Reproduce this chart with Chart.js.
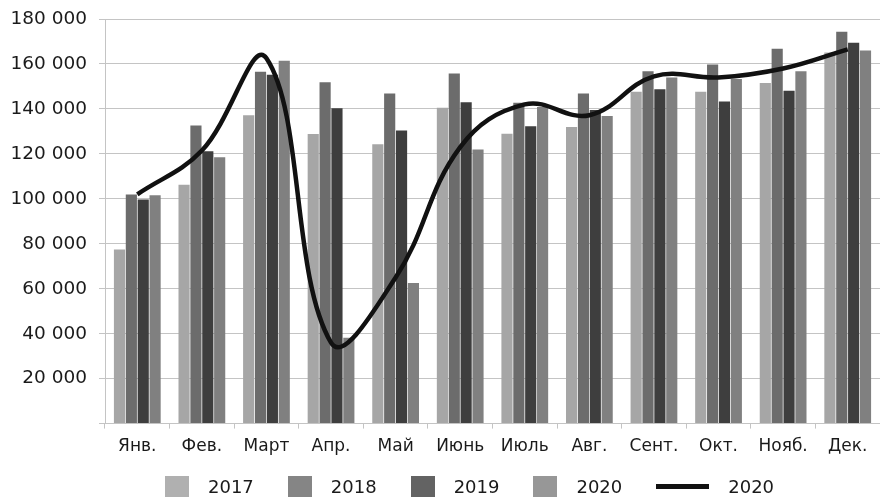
<!DOCTYPE html>
<html>
<head>
<meta charset="utf-8">
<script src="https://cdn.jsdelivr.net/npm/chart.js@4/dist/chart.umd.min.js"></script>
<style>
  html, body { margin: 0; padding: 0; background: #fff; }
  #wrap { position: relative; width: 880px; height: 499px; }
  #legend {
    position: absolute; left: 165px; top: 476px; height: 21px;
    display: flex; align-items: center;
    font-family: 'DejaVu Sans', sans-serif; font-size: 18px; color: #1a1a1a;
  }
  #legend .item { display: flex; align-items: center; margin-right: 34px; }
  #legend .box { width: 24px; height: 21px; margin-right: 19px; }
  #legend .line { width: 53px; height: 5px; margin-right: 19px; }
</style>
</head>
<body>
<div id="wrap">
  <canvas id="chart" width="880" height="499"></canvas>
  <div id="legend"></div>
</div>
<script>
// months on the x axis
const months = ['Янв.', 'Фев.', 'Март', 'Апр.', 'Май', 'Июнь', 'Июль', 'Авг.', 'Сент.', 'Окт.', 'Нояб.', 'Дек.'];

// bar series
const sales2017 = [77500, 106300, 137200, 128800, 124300, 140500, 128900, 132000, 147600, 147600, 151500, 165100];
const sales2018 = [101900, 132600, 156500, 151900, 146900, 155800, 142700, 146900, 156800, 159800, 166800, 174300];
const sales2019 = [99700, 121200, 155200, 140300, 130400, 143000, 132300, 139500, 148800, 143300, 148100, 169400];
const sales2020 = [101600, 118500, 161400, 38200, 62500, 121900, 140900, 136800, 154000, 153300, 156800, 166000];

// the smoothed 2020 line
const line2020 = [102000, 121500, 162500, 36000, 65000, 123000, 142000, 137200, 154500, 154000, 158000, 166500];

// y axis ticks
const yTicks = [0, 20000, 40000, 60000, 80000, 100000, 120000, 140000, 160000, 180000];

const colors = {
    c2017: '#a6a6a6',
    c2018: '#6c6c6c',
    c2019: '#3e3e3e',
    c2020: '#808080',
    line: '#111111',
    grid: '#c4c4c4',
    text: '#1a1a1a'
};

const fontFamily = "'DejaVu Sans', sans-serif";

function fmt(v) {
    if (v === 0) return '';
    return String(v).replace(/\B(?=(\d{3})+(?!\d))/g, ' ');
}

function barSet(label, data, color) {
    return {
        type: 'bar',
        label: label,
        data: data,
        backgroundColor: color,
        borderWidth: 0,
        barPercentage: 0.94,
        categoryPercentage: 0.735,
        order: 1
    };
}

const ctx = document.getElementById('chart');

new Chart(ctx, {
    data: {
        labels: months,
        datasets: [
            barSet('2017', sales2017, colors.c2017),
            barSet('2018', sales2018, colors.c2018),
            barSet('2019', sales2019, colors.c2019),
            barSet('2020', sales2020, colors.c2020),
            {
                type: 'line',
                label: '2020',
                data: line2020,
                borderColor: colors.line,
                borderWidth: 4.5,
                pointRadius: 0,
                tension: 0.4,
                fill: false,
                order: 0
            }
        ]
    },
    options: {
        responsive: false,
        animation: false,
        layout: { padding: { top: 19, right: 0, bottom: 34, left: 0 } },
        plugins: {
            legend: { display: false },
            tooltip: { enabled: false }
        },
        scales: {
            x: {
                offset: true,
                grid: {
                    offset: true,
                    drawOnChartArea: false,
                    drawTicks: true,
                    tickLength: 5,
                    color: colors.grid
                },
                border: { display: true, color: colors.grid },
                ticks: {
                    color: colors.text,
                    padding: 8,
                    maxRotation: 0,
                    font: { family: fontFamily, size: 17 }
                }
            },
            y: {
                min: 0,
                max: 180000,
                afterFit: (scale) => {
                    scale.width = 105;
                    scale.paddingTop = 0;
                },
                afterBuildTicks: (scale) => {
                    scale.ticks = yTicks.map(v => ({ value: v }));
                },
                grid: {
                    color: colors.grid,
                    drawTicks: true,
                    tickLength: 6
                },
                border: { display: true, color: colors.grid },
                ticks: {
                    color: colors.text,
                    padding: 12,
                    callback: (v) => fmt(v),
                    font: { family: fontFamily, size: 18.5 }
                }
            }
        }
    }
});

// legend below the chart
const legendItems = [
    { text: '2017', color: '#b0b0b0', kind: 'box' },
    { text: '2018', color: '#858585', kind: 'box' },
    { text: '2019', color: '#636363', kind: 'box' },
    { text: '2020', color: '#979797', kind: 'box' },
    { text: '2020', color: colors.line, kind: 'line' }
];
const legendEl = document.getElementById('legend');
legendItems.forEach(it => {
    const item = document.createElement('div');
    item.className = 'item';
    const sw = document.createElement('span');
    sw.className = it.kind;
    sw.style.background = it.color;
    const tx = document.createElement('span');
    tx.textContent = it.text;
    item.appendChild(sw);
    item.appendChild(tx);
    legendEl.appendChild(item);
});
</script>
</body>
</html>
